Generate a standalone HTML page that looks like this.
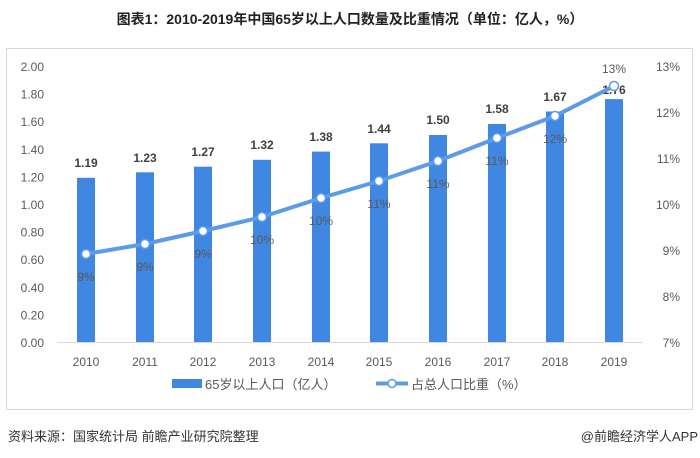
<!DOCTYPE html>
<html><head><meta charset="utf-8"><style>
body{margin:0;background:#fff;width:700px;height:453px;overflow:hidden;font-family:"Liberation Sans","Noto Sans CJK SC",sans-serif;}
</style></head><body>
<svg width="700" height="453" xmlns="http://www.w3.org/2000/svg" font-family="Liberation Sans, Noto Sans CJK SC, sans-serif">
<text x="350" y="24" text-anchor="middle" font-size="14" font-weight="bold" fill="#222">图表1：2010-2019年中国65岁以上人口数量及比重情况（单位：亿人，%）</text>
<rect x="6.5" y="48.5" width="686" height="361" fill="none" stroke="#d9d9d9"/>
<g font-size="12" fill="#595959" text-anchor="end">
<text x="44" y="71">2.00</text><text x="44" y="98.6">1.80</text><text x="44" y="126.2">1.60</text><text x="44" y="153.8">1.40</text><text x="44" y="181.4">1.20</text><text x="44" y="209">1.00</text><text x="44" y="236.6">0.80</text><text x="44" y="264.2">0.60</text><text x="44" y="291.8">0.40</text><text x="44" y="319.4">0.20</text><text x="44" y="347">0.00</text>
</g>
<g font-size="12" fill="#595959" text-anchor="end">
<text x="680" y="71">13%</text><text x="680" y="117">12%</text><text x="680" y="163">11%</text><text x="680" y="209">10%</text><text x="680" y="255">9%</text><text x="680" y="301">8%</text><text x="680" y="347">7%</text>
</g>
<line x1="57" y1="342.5" x2="643" y2="342.5" stroke="#d9d9d9"/>
<g fill="#3f87e0">
<rect x="77" y="177.8" width="18" height="164.2"/>
<rect x="136" y="172.3" width="18" height="169.7"/>
<rect x="194" y="166.7" width="18" height="175.3"/>
<rect x="253" y="159.8" width="18" height="182.2"/>
<rect x="312" y="151.6" width="18" height="190.4"/>
<rect x="370" y="143.3" width="18" height="198.7"/>
<rect x="429" y="135" width="18" height="207"/>
<rect x="488" y="124" width="18" height="218"/>
<rect x="546" y="111.5" width="18" height="230.5"/>
<rect x="605" y="99.1" width="18" height="242.9"/>
</g>
<g font-size="12" font-weight="bold" fill="#404040" text-anchor="middle">
<text x="86" y="167">1.19</text><text x="145" y="162">1.23</text><text x="203" y="156">1.27</text><text x="262" y="149">1.32</text><text x="321" y="141">1.38</text><text x="379" y="133">1.44</text><text x="438" y="124">1.50</text><text x="497" y="113">1.58</text><text x="555" y="101">1.67</text><text x="614" y="94">1.76</text>
</g>
<polyline fill="none" stroke="#5b9bea" stroke-width="4" points="86,254 145,244 203,231 262,217 321,198 379,181 438,161 497,138 555,116 614,86"/>
<g fill="#fff" stroke="#5b9bea" stroke-width="1.5">
<circle cx="86" cy="254" r="4.5"/><circle cx="145" cy="244" r="4.5"/><circle cx="203" cy="231" r="4.5"/><circle cx="262" cy="217" r="4.5"/><circle cx="321" cy="198" r="4.5"/><circle cx="379" cy="181" r="4.5"/><circle cx="438" cy="161" r="4.5"/><circle cx="497" cy="138" r="4.5"/><circle cx="555" cy="116" r="4.5"/><circle cx="614" cy="86" r="4.5"/>
</g>
<g font-size="12" fill="#595959" text-anchor="middle">
<text x="86" y="281">9%</text><text x="145" y="271">9%</text><text x="203" y="258">9%</text><text x="262" y="244">10%</text><text x="321" y="225">10%</text><text x="379" y="208">11%</text><text x="438" y="188">11%</text><text x="497" y="165">11%</text><text x="555" y="143">12%</text><text x="614" y="73">13%</text>
</g>
<g font-size="12" fill="#595959" text-anchor="middle">
<text x="86" y="366">2010</text><text x="145" y="366">2011</text><text x="203" y="366">2012</text><text x="262" y="366">2013</text><text x="321" y="366">2014</text><text x="379" y="366">2015</text><text x="438" y="366">2016</text><text x="497" y="366">2017</text><text x="555" y="366">2018</text><text x="614" y="366">2019</text>
</g>
<rect x="172" y="379" width="30" height="9" fill="#3f87e0"/>
<text x="205" y="389" font-size="13" fill="#595959">65岁以上人口（亿人）</text>
<line x1="376" y1="383.5" x2="408" y2="383.5" stroke="#5b9bea" stroke-width="4"/>
<circle cx="392" cy="383.5" r="4" fill="#fff" stroke="#5b9bea" stroke-width="1.5"/>
<text x="411" y="389" font-size="13" fill="#595959">占总人口比重（%）</text>
<text x="8" y="441" font-size="13" fill="#333">资料来源：国家统计局 前瞻产业研究院整理</text>
<text x="698" y="441" font-size="13" fill="#333" text-anchor="end">@前瞻经济学人APP</text>
</svg>
</body></html>
